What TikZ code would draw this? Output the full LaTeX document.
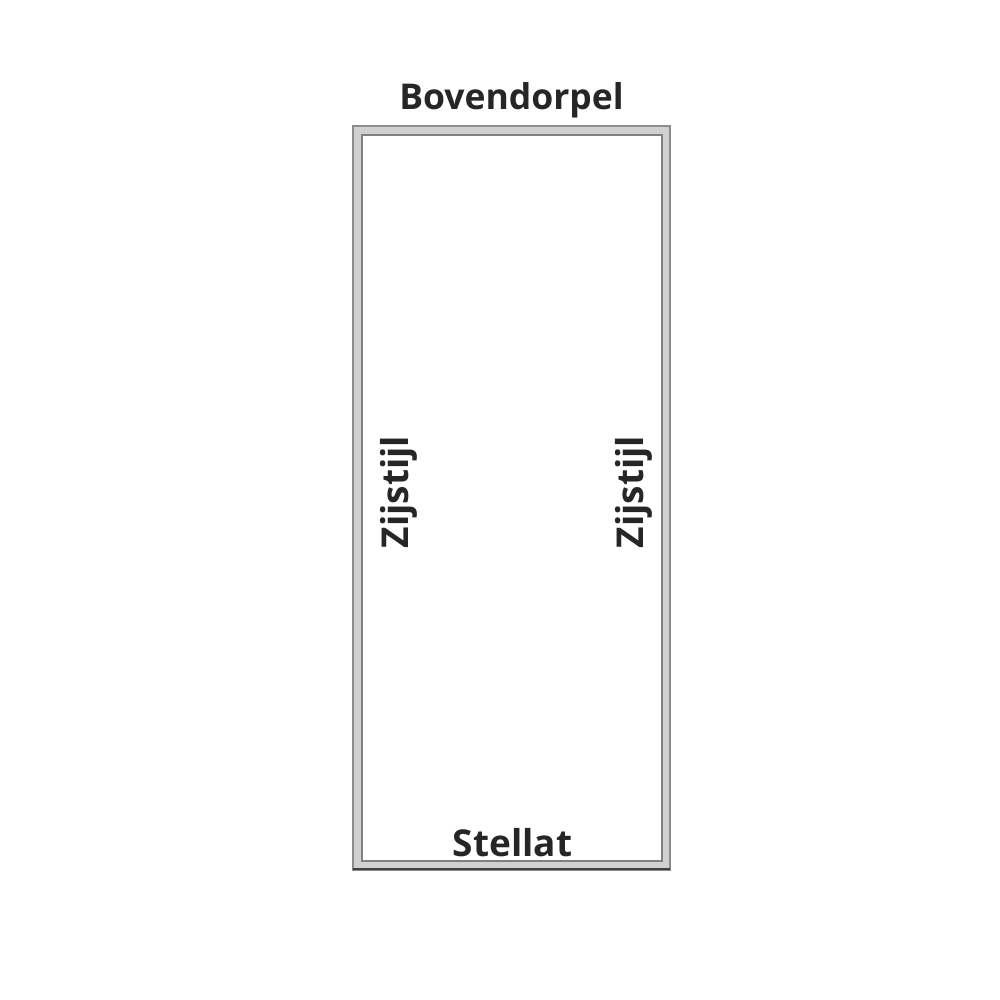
\documentclass[tikz,border=0pt]{standalone}
\usepackage{fontspec}
\setmainfont{Open Sans}
\begin{document}
\begin{tikzpicture}[x=1pt,y=-1pt,
  lbl/.style={font=\fontsize{37}{40}\selectfont\bfseries, text=black!85, inner sep=0pt},
  frameout/.style={draw=black!45, line width=2.2pt, fill=black!18},
  framein/.style={draw=black!50, line width=2pt, fill=white}]
\useasboundingbox (0,0) rectangle (1000,1000);
\fill[white] (0,0) rectangle (1000,1000);
\draw[frameout] (353,126) rectangle (670,870);
\draw[framein] (362,135) rectangle (662,861);
\draw[black!75, line width=2.6pt] (353,869) -- (670,869);
\node[lbl, font=\fontsize{35.5}{38}\selectfont\bfseries] (top) at (511.5,100) {Bovendorpel};
\node[lbl] (bot) at (512.5,843) {Stellat};
\node[lbl, rotate=90] (left) at (399,492) {Zijstijl};
\node[lbl, rotate=90] (right) at (634,492) {Zijstijl};
\end{tikzpicture}
\end{document}
